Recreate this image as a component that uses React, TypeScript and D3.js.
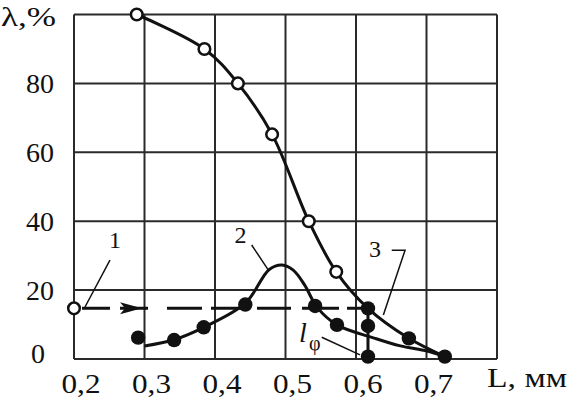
import React from "react";
import * as d3 from "d3";

// Curve 3 (upper) – open circles then filled points
const c3Hollow_L = [0.289, 0.385, 0.4325, 0.481, 0.533, 0.572];
const c3Hollow_V = [100, 90, 80, 65.2, 40, 25.3];
const c3Filled_L = [0.617, 0.675, 0.726];
const c3Filled_V = [14.7, 6, 0.7];

// Curve 2 – filled measured points and fitted line
const c2Points_L = [0.291, 0.342, 0.384, 0.443, 0.542, 0.573, 0.617, 0.617];
const c2Points_V = [6.2, 5.5, 9.2, 15.8, 15.4, 9.9, 9.6, 0.7];
const c2Line_L = [0.3, 0.342, 0.384, 0.443, 0.477, 0.495, 0.511, 0.527, 0.545, 0.573, 0.627, 0.663, 0.701, 0.726];
const c2Line_V = [3.8, 5.6, 9.2, 16.2, 26, 27.3, 25.8, 21.5, 15, 9.9, 6, 3.8, 2.3, 0.7];

// Curve 1 – dashed level
const c1Start = [0.2, 14.7];
const c1End = [0.617, 14.7];
const lphiTop = [0.617, 14.7];
const lphiBottom = [0.617, 0.7];

const xTicks = [0.2, 0.3, 0.4, 0.5, 0.6, 0.7];
const xTickLabels = ["0,2", "0,3", "0,4", "0,5", "0,6", "0,7"];
const yTicks = [0, 20, 40, 60, 80];
const yTickLabels = ["0", "20", "40", "60", "80"];
const xGrid = [0.2, 0.3, 0.4, 0.5, 0.6, 0.7, 0.8];
const yGrid = [0, 20, 40, 60, 80, 100];

const W = 582;
const H = 402;
const FONT = "Liberation Serif, Times New Roman, serif";
const tStyle = { fontFamily: FONT };

export default function App() {
  const x = d3.scaleLinear().domain([0.2, 0.8]).range([74, 497]);
  const y = d3.scaleLinear().domain([0, 100]).range([359, 14.5]);

  const line = d3
    .line<[number, number]>()
    .x((d) => x(d[0]))
    .y((d) => y(d[1]))
    .curve(d3.curveCatmullRom.alpha(0.5));

  const c3All: [number, number][] = [
    ...c3Hollow_L.map((l, i) => [l, c3Hollow_V[i]] as [number, number]),
    ...c3Filled_L.map((l, i) => [l, c3Filled_V[i]] as [number, number]),
  ];
  const c2All: [number, number][] = c2Line_L.map((l, i) => [l, c2Line_V[i]]);

  const ink = "#111";
  const gridC = "#2a2a2a";

  const ay = y(c1Start[1]);
  const tipX = x(0.2965);
  const arrow = `M${tipX},${ay} L${tipX - 22},${ay - 6} L${tipX - 17},${ay} L${tipX - 22},${ay + 6} Z`;

  return (
    <svg
      width={W}
      height={H}
      style={{ position: "absolute", left: 0, top: 0, background: "#fff" }}
    >
      {xGrid.map((v) => (
        <line key={"gx" + v} x1={x(v)} x2={x(v)} y1={y(0)} y2={y(100)} stroke={gridC} strokeWidth={2} />
      ))}
      {yGrid.map((v) => (
        <line key={"gy" + v} x1={x(0.2)} x2={x(0.8)} y1={y(v)} y2={y(v)} stroke={gridC} strokeWidth={2} />
      ))}

      {xTicks.map((v, i) => (
        <text
          key={"xt" + v}
          x={x(v) + 7}
          y={393}
          fontSize={28}
          textAnchor="middle"
          fill={ink}
          style={tStyle}
          textLength={39}
          lengthAdjust="spacingAndGlyphs"
        >
          {xTickLabels[i]}
        </text>
      ))}
      {yTicks.map((v, i) => (
        <text
          key={"yt" + v}
          x={v === 0 ? 45 : 54}
          y={v === 0 ? y(v) + 4 : y(v) + 9.5}
          fontSize={28}
          textAnchor="end"
          fill={ink}
          style={tStyle}
        >
          {yTickLabels[i]}
        </text>
      ))}
      <text x={56} y={26} fontSize={28} textAnchor="end" fill={ink} style={tStyle} textLength={55} lengthAdjust="spacingAndGlyphs">λ,%</text>
      <text x={487} y={387} fontSize={28} fill={ink} style={tStyle} textLength={80} lengthAdjust="spacingAndGlyphs">L, мм</text>

      <line
        x1={x(c1Start[0]) + 8}
        x2={x(c1End[0])}
        y1={y(c1Start[1])}
        y2={y(c1End[1])}
        stroke={ink}
        strokeWidth={3}
        strokeDasharray="28 10 28 19 35 9 36 10 34 11 37 8 30"
      />
      <path d={arrow} fill={ink} />
      <circle cx={x(c1Start[0])} cy={y(c1Start[1])} r={5.8} fill="#fff" stroke={ink} strokeWidth={2.5} />

      <path d={line(c3All) || ""} fill="none" stroke={ink} strokeWidth={3} />
      <path d={line(c2All) || ""} fill="none" stroke={ink} strokeWidth={3} />

      <line x1={x(lphiTop[0])} x2={x(lphiBottom[0])} y1={y(lphiTop[1])} y2={y(lphiBottom[1])} stroke={ink} strokeWidth={3} />

      {c3Hollow_L.map((l, i) => (
        <circle key={"h" + i} cx={x(l)} cy={y(c3Hollow_V[i])} r={5.8} fill="#fff" stroke={ink} strokeWidth={2.5} />
      ))}
      {c3Filled_L.map((l, i) => (
        <circle key={"f3" + i} cx={x(l)} cy={y(c3Filled_V[i])} r={7.2} fill={ink} />
      ))}
      {c2Points_L.map((l, i) => (
        <circle key={"f2" + i} cx={x(l)} cy={y(c2Points_V[i])} r={7.2} fill={ink} />
      ))}

      <text x={x(0.2582)} y={y(32.2)} fontSize={24} textAnchor="middle" fill={ink} style={tStyle}>1</text>
      <line x1={x(0.251)} y1={y(28.7)} x2={x(0.2156)} y2={y(15.1)} stroke={ink} strokeWidth={1.5} />

      <text x={x(0.436)} y={y(33.7)} fontSize={24} textAnchor="middle" fill={ink} style={tStyle}>2</text>
      <line x1={x(0.452)} y1={y(33.1)} x2={x(0.4757)} y2={y(25.8)} stroke={ink} strokeWidth={1.5} />

      <text x={x(0.627)} y={y(29.7)} fontSize={24} textAnchor="middle" fill={ink} style={tStyle}>3</text>
      <polyline
        points={`${x(0.6507)},${y(31.6)} ${x(0.6696)},${y(31.6)} ${x(0.6388)},${y(12.8)}`}
        fill="none"
        stroke={ink}
        strokeWidth={1.5}
      />

      <text x={x(0.5206) - 1} y={y(5)} fontSize={28} fontStyle="italic" fill={ink} style={tStyle}>l</text>
      <text x={x(0.5206) + 9} y={y(5) + 8} fontSize={20} fill={ink} style={tStyle}>φ</text>
      <line x1={x(0.5514)} y1={y(6.3)} x2={x(0.6057)} y2={y(1.2)} stroke={ink} strokeWidth={1.5} />
    </svg>
  );
}
